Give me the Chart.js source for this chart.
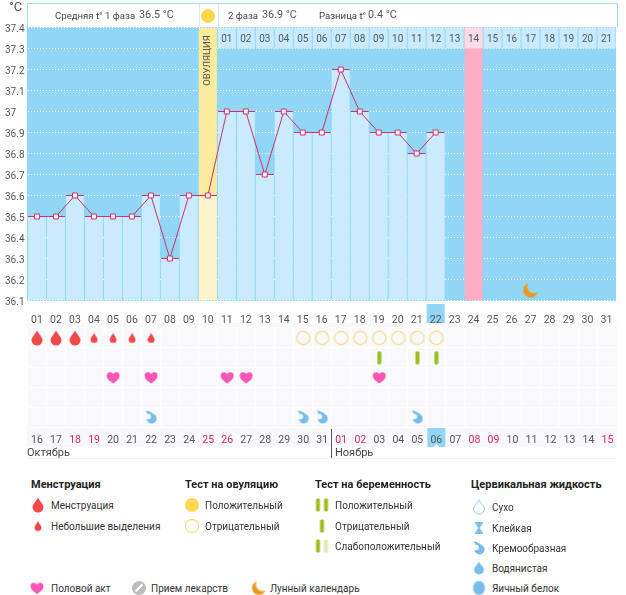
<!DOCTYPE html>
<html lang="ru">
<head>
<meta charset="utf-8">
<title>График базальной температуры</title>
<script src="https://cdn.jsdelivr.net/npm/chart.js@4"></script>
<style>
  body { margin: 0; background: #fff; overflow: hidden; font-family: Roboto, sans-serif; color: #333; }
  #page { position: relative; width: 626px; height: 595px; overflow: hidden; }
  #page canvas.chart { position: absolute; left: 0; }
  .t { position: absolute; white-space: nowrap; font-size: 9.6px; line-height: 14px; transform: translateY(-50%); color: #444; }
  .val { font-size: 10.8px; color: #555; }
  .h { font-weight: 700; font-size: 11px; color: #222; }
  .l { font-size: 10px; color: #333; margin-top: 1px; }
  .icon { position: absolute; transform: translate(-50%, -50%); }
  #headbox { position: absolute; left: 27px; top: 3px; width: 589px; height: 23px; border: 1px solid #a4dcf2; border-bottom: 0; }
  #suncell { position: absolute; left: 171px; top: 0; width: 18px; height: 23px; border: solid #d4eef9; border-width: 0 1px; }
  #cells { position: absolute; left: 27px; top: 323px; width: 590px; height: 124px; background: #f9f9fb; }
  #rule { position: absolute; left: 27px; top: 458px; width: 590px; height: 1px; background: #efefef; }
  #monthsep { position: absolute; left: 331px; top: 429px; width: 1px; height: 29px; background: #555; }
</style>
</head>
<body>
<div id="page">
  <div id="cells"></div>
  <div id="rule"></div>
  <canvas class="chart" id="tempChart" width="626" height="323" style="top:0"></canvas>
  <canvas class="chart" id="marksChart" width="626" height="127" style="top:323px"></canvas>
  <div id="monthsep"></div>

  <div id="headbox"><div id="suncell"></div></div>
  <div class="t" style="left:9px;top:7px;font-size:13px;color:#555">°C</div>
  <div class="t" style="left:55px;top:16px">Средняя t° 1 фаза</div>
  <div class="t val" style="left:139px;top:15px">36.5 °C</div>
  <span class="icon" data-icon="sun" style="left:208px;top:16px"></span>
  <div class="t" style="left:228px;top:16px">2 фаза</div>
  <div class="t val" style="left:262px;top:15px">36.9 °C</div>
  <div class="t" style="left:319px;top:16px">Разница t°</div>
  <div class="t val" style="left:368px;top:15px">0.4 °C</div>

  <div class="t" style="left:27px;top:453px;font-size:11px">Октябрь</div>
  <div class="t" style="left:335px;top:453px;font-size:11px">Ноябрь</div>

  <div class="t h" style="left:31px;top:485px">Менструация</div>
  <span class="icon" data-icon="bleedLarge" style="left:38px;top:505px"></span>
  <div class="t l" style="left:51px;top:505px">Менструация</div>
  <span class="icon" data-icon="bleedSmall" style="left:38px;top:526px"></span>
  <div class="t l" style="left:51px;top:526px">Небольшие выделения</div>

  <div class="t h" style="left:185px;top:485px">Тест на овуляцию</div>
  <span class="icon" data-icon="sun" style="left:192px;top:505px"></span>
  <div class="t l" style="left:205px;top:505px">Положительный</div>
  <span class="icon" data-icon="ring" style="left:192px;top:526px"></span>
  <div class="t l" style="left:205px;top:526px">Отрицательный</div>

  <div class="t h" style="left:315px;top:485px">Тест на беременность</div>
  <span class="icon" data-icon="stick" style="left:318px;top:505px"></span>
  <span class="icon" data-icon="stick" style="left:326px;top:505px"></span>
  <div class="t l" style="left:335px;top:505px">Положительный</div>
  <span class="icon" data-icon="stick" style="left:322px;top:526px"></span>
  <div class="t l" style="left:335px;top:526px">Отрицательный</div>
  <span class="icon" data-icon="stick" style="left:318px;top:546px"></span>
  <span class="icon" data-icon="stickPale" style="left:326px;top:546px"></span>
  <div class="t l" style="left:335px;top:546px">Слабоположительный</div>

  <div class="t h" style="left:471px;top:485px">Цервикальная жидкость</div>
  <span class="icon" data-icon="dry" style="left:479px;top:507px"></span>
  <div class="t l" style="left:492px;top:507px">Сухо</div>
  <span class="icon" data-icon="sticky" style="left:479px;top:528px"></span>
  <div class="t l" style="left:492px;top:528px">Клейкая</div>
  <span class="icon" data-icon="creamy" style="left:479px;top:548px"></span>
  <div class="t l" style="left:492px;top:548px">Кремообразная</div>
  <span class="icon" data-icon="watery" style="left:479px;top:568px"></span>
  <div class="t l" style="left:492px;top:568px">Водянистая</div>
  <span class="icon" data-icon="eggWhite" style="left:479px;top:588px"></span>
  <div class="t l" style="left:492px;top:588px">Яичный белок</div>

  <span class="icon" data-icon="heart" style="left:37px;top:588px"></span>
  <div class="t l" style="left:51px;top:588px">Половой акт</div>
  <span class="icon" data-icon="pill" style="left:139px;top:588px"></span>
  <div class="t l" style="left:151px;top:588px">Прием лекарств</div>
  <span class="icon" data-icon="moon" style="left:259px;top:588px"></span>
  <div class="t l" style="left:270px;top:588px">Лунный календарь</div>
</div>

<script>
// ---------- DATA ----------

const cycleDays = ["01","02","03","04","05","06","07","08","09","10","11","12","13","14","15","16",
  "17","18","19","20","21","22","23","24","25","26","27","28","29","30","31"];
const dateLabels = ["16","17","18","19","20","21","22","23","24","25","26","27","28","29","30","31",
  "01","02","03","04","05","06","07","08","09","10","11","12","13","14","15"];
const redDates = ["18","19","25","26","01","02","08","09","15"];
const phaseTwoDays = ["01","02","03","04","05","06","07","08","09","10","11","12","13","14","15","16",
  "17","18","19","20","21"];

const temperatures = [36.5,36.5,36.6,36.5,36.5,36.5,36.6,36.3,36.6,36.6,37,37,36.7,37,36.9,36.9,
  37.2,37,36.9,36.9,36.8,36.9,null,null,null,null,null,null,null,null,null];

const ovulationDay = 10;
const expectedPeriodDay = 24;
const todayDay = 22;
const moonDay = 27;
const moonTemp = 36.15;

const tempMin = 36.1;
const tempMax = 37.4;
const headerFloor = 37.3;

const markRows = ["bleed", "pregnancy", "sex", "empty", "fluid"];
const heavyBleedDays = [1, 2, 3];
const lightBleedDays = [4, 5, 6, 7];
const negativeOvuTestDays = [15, 16, 17, 18, 19, 20, 21, 22];
const pregnancyTestDays = [19, 21, 22];
const sexDays = [5, 7, 11, 12, 19];
const creamyFluidDays = [7, 15, 16, 21];

// ---------- ICONS ----------

function makeIcon(w, h, draw) {
  const c = document.createElement("canvas");
  c.width = w;
  c.height = h;
  draw(c.getContext("2d"), w, h);
  return c;
}

function dropPath(ctx, w, h) {
  const r = w / 2 - 0.5;
  const cy = h - r - 0.5;
  ctx.beginPath();
  ctx.moveTo(w / 2, 0.5);
  ctx.bezierCurveTo(w / 2 + r * 0.35, h * 0.28, w / 2 + r, cy - r * 0.45, w / 2 + r, cy);
  ctx.arc(w / 2, cy, r, 0, Math.PI);
  ctx.bezierCurveTo(w / 2 - r, cy - r * 0.45, w / 2 - r * 0.35, h * 0.28, w / 2, 0.5);
  ctx.closePath();
}

function filledDrop(w, h, color) {
  return makeIcon(w, h, (ctx) => {
    dropPath(ctx, w, h);
    ctx.fillStyle = color;
    ctx.fill();
  });
}

function stickIcon(color) {
  return makeIcon(5, 14, (ctx) => {
    ctx.fillStyle = color;
    ctx.beginPath();
    ctx.roundRect(0.5, 0.5, 4, 13, 1.5);
    ctx.fill();
  });
}

function moonIcon(size) {
  return makeIcon(size, size, (ctx) => {
    ctx.fillStyle = "#ee9a22";
    ctx.beginPath();
    ctx.arc(size / 2, size / 2, size / 2 - 0.5, 0, Math.PI * 2);
    ctx.fill();
    ctx.globalCompositeOperation = "destination-out";
    ctx.beginPath();
    ctx.arc(size * 0.72, size * 0.27, size * 0.43, 0, Math.PI * 2);
    ctx.fill();
  });
}

const icons = {
  bleedLarge: filledDrop(12, 16, "#f24848"),
  bleedSmall: filledDrop(8, 11, "#f24848"),
  watery: filledDrop(11, 14, "#76bdec"),
  stick: stickIcon("#9bbd1e"),
  stickPale: stickIcon("#dfe8b8"),
  sun: makeIcon(16, 16, (ctx) => {
    ctx.fillStyle = "#ffd84f";
    ctx.beginPath();
    ctx.arc(8, 8, 7, 0, Math.PI * 2);
    ctx.fill();
  }),
  ring: makeIcon(16, 16, (ctx) => {
    ctx.strokeStyle = "#f4dc86";
    ctx.lineWidth = 1.2;
    ctx.beginPath();
    ctx.arc(8, 8, 6.6, 0, Math.PI * 2);
    ctx.stroke();
  }),
  heart: makeIcon(14, 13, (ctx) => {
    ctx.fillStyle = "#fb55b6";
    ctx.beginPath();
    ctx.moveTo(7, 12.5);
    ctx.bezierCurveTo(3, 10, 0.5, 7.5, 0.5, 4.5);
    ctx.bezierCurveTo(0.5, 1, 5, 0, 7, 3);
    ctx.bezierCurveTo(9, 0, 13.5, 1, 13.5, 4.5);
    ctx.bezierCurveTo(13.5, 7.5, 11, 10, 7, 12.5);
    ctx.fill();
  }),
  creamy: makeIcon(12, 14, (ctx) => {
    ctx.fillStyle = "#76bdec";
    ctx.beginPath();
    ctx.arc(6.5, 8.5, 5, 0, Math.PI * 2);
    ctx.fill();
    ctx.beginPath();
    ctx.moveTo(0.5, 0.5);
    ctx.quadraticCurveTo(7, 0.5, 11.5, 8);
    ctx.lineTo(4, 6);
    ctx.fill();
    ctx.globalCompositeOperation = "destination-out";
    ctx.beginPath();
    ctx.arc(3, 6.5, 2.8, 0, Math.PI * 2);
    ctx.fill();
  }),
  dry: makeIcon(12, 15, (ctx) => {
    dropPath(ctx, 12, 15);
    ctx.strokeStyle = "#8cc8ee";
    ctx.stroke();
  }),
  sticky: makeIcon(11, 14, (ctx) => {
    ctx.fillStyle = "#76bdec";
    ctx.beginPath();
    ctx.moveTo(1, 1);
    ctx.lineTo(10, 1);
    ctx.lineTo(6.3, 7);
    ctx.lineTo(10, 13);
    ctx.lineTo(1, 13);
    ctx.lineTo(4.7, 7);
    ctx.fill();
  }),
  eggWhite: makeIcon(13, 15, (ctx) => {
    ctx.fillStyle = "#76bdec";
    ctx.beginPath();
    ctx.ellipse(6.5, 7.5, 6, 7, 0, 0, Math.PI * 2);
    ctx.fill();
  }),
  pill: makeIcon(16, 16, (ctx) => {
    ctx.fillStyle = "#bdbdbd";
    ctx.beginPath();
    ctx.arc(8, 8, 7, 0, Math.PI * 2);
    ctx.fill();
    ctx.strokeStyle = "#fff";
    ctx.lineWidth = 2.2;
    ctx.beginPath();
    ctx.moveTo(4.5, 11.5);
    ctx.lineTo(11.5, 4.5);
    ctx.stroke();
  }),
  moon: moonIcon(15),
  moonLarge: moonIcon(16)
};

document.querySelectorAll("[data-icon]").forEach((el) => {
  const src = icons[el.dataset.icon];
  el.appendChild(makeIcon(src.width, src.height, (ctx) => ctx.drawImage(src, 0, 0)));
  el.firstChild.style.display = "block";
});

// ---------- TEMPERATURE CHART ----------

const skyBlue = "#91d7f5";
const barBlue = "#c9ebfd";
const lineRed = "#cf2f6c";

function cellHighlight(scale, index, top, height) {
  const ctx = scale.ctx;
  const x = scale.getPixelForTick(index);
  ctx.fillStyle = skyBlue;
  ctx.fillRect(x - 9, top, 18, height);
}

const tempPlugin = {
  id: "tempExtras",
  beforeDraw(chart) {
    const { ctx, chartArea: a, scales } = chart;
    const left = Math.floor(a.left);
    const top = Math.floor(a.top);
    ctx.fillStyle = skyBlue;
    ctx.fillRect(left, top, Math.ceil(a.right) - left, Math.ceil(a.bottom) - top);
    cellHighlight(scales.x, todayDay - 1, Math.ceil(a.bottom) + 3, 20);
  },
  afterDatasetsDraw(chart) {
    const { ctx, scales } = chart;
    ctx.save();
    ctx.fillStyle = "#4a5a66";
    ctx.font = "10px Roboto";
    ctx.textAlign = "center";
    ctx.textBaseline = "middle";
    phaseTwoDays.forEach((label, i) => {
      ctx.fillText(label, scales.x.getPixelForTick(ovulationDay + i), 39.5);
    });
    ctx.translate(scales.x.getPixelForTick(ovulationDay - 1), 60.5);
    ctx.rotate(-Math.PI / 2);
    ctx.fillStyle = "#555";
    ctx.font = "9.5px Roboto";
    ctx.fillText("ОВУЛЯЦИЯ", 0, 0);
    ctx.restore();
  }
};

function onlyDay(day, value) {
  return cycleDays.map((_, i) => (i === day - 1 ? value : null));
}

new Chart(document.getElementById("tempChart"), {
  type: "bar",
  plugins: [tempPlugin],
  data: {
    labels: cycleDays,
    datasets: [
      {
        data: onlyDay(ovulationDay, [tempMin, tempMax]),
        backgroundColor: "#fceb9b",
        order: 6
      },
      {
        data: onlyDay(expectedPeriodDay, [tempMin, tempMax]),
        backgroundColor: "#ffadc5",
        order: 5
      },
      {
        data: cycleDays.map((_, i) => (i >= ovulationDay ? [headerFloor, tempMax] : null)),
        backgroundColor: cycleDays.map((_, i) => (i === expectedPeriodDay - 1 ? "#ffd9e5" : barBlue)),
        order: 4
      },
      {
        data: temperatures.map((t) => (t === null ? null : [tempMin, t])),
        backgroundColor: cycleDays.map((_, i) => (i === ovulationDay - 1 ? "#fdf5c9" : barBlue)),
        order: 3
      },
      {
        type: "line",
        data: temperatures,
        showLine: false,
        pointStyle: "line",
        pointRadius: 9,
        pointBorderWidth: 1,
        pointBorderColor: lineRed,
        order: 2
      },
      {
        type: "line",
        data: temperatures,
        borderColor: lineRed,
        borderWidth: 1,
        tension: 0,
        pointStyle: "rect",
        pointRadius: 3.5,
        pointBorderWidth: 1,
        pointBorderColor: lineRed,
        pointBackgroundColor: "#fff",
        order: 1
      },
      {
        type: "line",
        data: onlyDay(moonDay, moonTemp),
        showLine: false,
        pointStyle: icons.moonLarge,
        order: 0
      }
    ]
  },
  options: {
    responsive: false,
    animation: false,
    devicePixelRatio: 1,
    datasets: { bar: { grouped: false, barPercentage: 18 / 19, categoryPercentage: 1 } },
    layout: { padding: { left: 5, right: 9, top: 27.5, bottom: 0 } },
    plugins: { legend: { display: false }, tooltip: { enabled: false } },
    scales: {
      x: {
        afterFit(scale) { scale.height = 22.5; },
        grid: { display: false },
        border: { display: false },
        ticks: {
          autoSkip: false,
          maxRotation: 0,
          padding: 6,
          color: "#555",
          font: { family: "Roboto", size: 10.5 }
        }
      },
      y: {
        min: tempMin,
        max: tempMax,
        afterFit(scale) { scale.width = 22.5; },
        grid: { color: "#fff", lineWidth: 1, drawTicks: false },
        border: { display: false, dash: [1, 2] },
        ticks: {
          stepSize: 0.1,
          crossAlign: "far",
          labelOffset: 2,
          padding: 0,
          color: "#555",
          font: { family: "Roboto", size: 10 },
          callback: (v) => Number(v.toFixed(1))
        }
      }
    }
  }
});

// ---------- MARKS CHART ----------

const marksPlugin = {
  id: "marksExtras",
  beforeDraw(chart) {
    const { ctx, chartArea: a, scales } = chart;
    cellHighlight(scales.x, todayDay - 1, a.bottom, 20);
    const cx = scales.x.getPixelForTick(todayDay - 1);
    ctx.fillStyle = "#fff";
    ctx.beginPath();
    ctx.moveTo(cx - 3, a.bottom + 20);
    ctx.lineTo(cx, a.bottom + 17);
    ctx.lineTo(cx + 3, a.bottom + 20);
    ctx.fill();
  }
};

function rowPoints(days, row) {
  return days.map((d) => ({ x: dateLabels[d - 1], y: row }));
}

function markSet(days, row, icon) {
  return { data: rowPoints(days, row), showLine: false, pointStyle: icon };
}

new Chart(document.getElementById("marksChart"), {
  type: "line",
  plugins: [marksPlugin],
  data: {
    labels: dateLabels,
    datasets: [
      markSet(heavyBleedDays, markRows[0], icons.bleedLarge),
      markSet(lightBleedDays, markRows[0], icons.bleedSmall),
      markSet(negativeOvuTestDays, markRows[0], icons.ring),
      markSet(pregnancyTestDays, markRows[1], icons.stick),
      markSet(sexDays, markRows[2], icons.heart),
      markSet(creamyFluidDays, markRows[4], icons.creamy)
    ]
  },
  options: {
    responsive: false,
    animation: false,
    devicePixelRatio: 1,
    layout: { padding: { left: 27.5, right: 9, top: 0, bottom: 0 } },
    plugins: { legend: { display: false }, tooltip: { enabled: false } },
    scales: {
      x: {
        type: "category",
        offset: true,
        afterFit(scale) { scale.height = 23; },
        grid: { color: "#fff", offset: true, drawTicks: false },
        border: { display: false },
        ticks: {
          autoSkip: false,
          maxRotation: 0,
          padding: 7,
          color: (c) => (redDates.includes(dateLabels[c.index]) ? "#d6245f" : "#555"),
          font: { family: "Roboto", size: 10.5 }
        }
      },
      y: {
        type: "category",
        labels: markRows,
        offset: true,
        afterFit(scale) { scale.width = 0; },
        grid: { color: "#fff", offset: true, drawTicks: false },
        border: { display: false },
        ticks: { display: false }
      }
    }
  }
});
</script>
</body>
</html>
